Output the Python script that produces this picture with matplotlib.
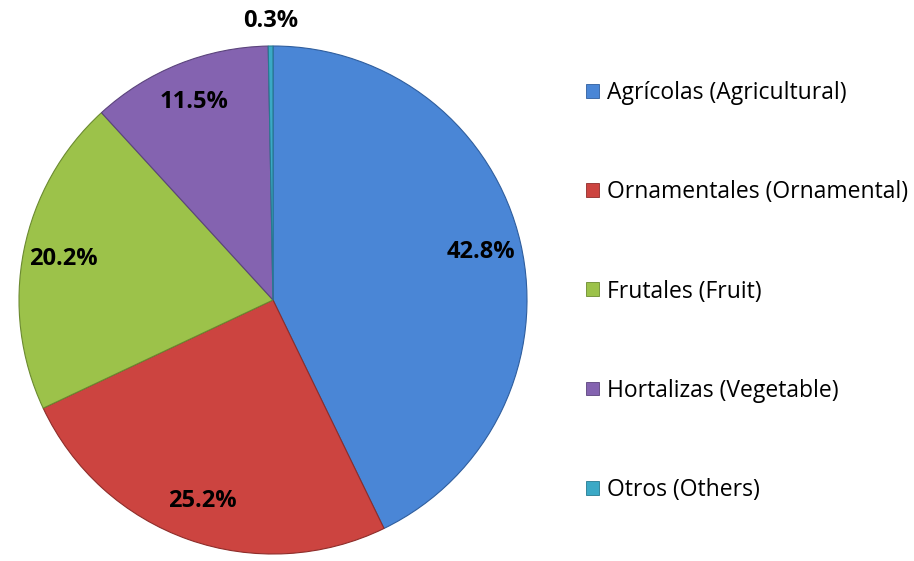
import numpy as np
import matplotlib.pyplot as plt
from matplotlib.patches import Patch

# data
labels = ["Agrícolas (Agricultural)", "Ornamentales (Ornamental)", "Frutales (Fruit)",
          "Hortalizas (Vegetable)", "Otros (Others)"]
values = [42.8, 25.2, 20.2, 11.5, 0.3]
colors = ["#4a86d6", "#cc4440", "#9cc24a", "#8463b0", "#3ba9c6"]
edges = ["#2f5e9e", "#8e2d2a", "#6b8a30", "#5b447c", "#267a90"]

plt.rcParams['font.family'] = ['Open Sans', 'DejaVu Sans']

fig = plt.figure(figsize=(9.14, 5.61), dpi=100)
ax = fig.add_axes([19 / 914, 7 / 561, 508 / 914, 508 / 561])

wedges, _ = ax.pie(values, colors=colors, startangle=90, counterclock=False,
                   radius=1.0, wedgeprops=dict(linewidth=0.8))
for w, ec in zip(wedges, edges):
    w.set_edgecolor(ec)
ax.set_xlim(-1, 1)
ax.set_ylim(-1, 1)
ax.set_aspect('equal')
ax.axis('off')

# percentage labels
cum = np.cumsum([0] + values[:-1])
for v, c in zip(values, cum):
    ang = np.deg2rad(90 - (c + v / 2) * 3.6)
    r = 0.84 if v > 2 else 1.10
    ax.text(r * np.cos(ang), r * np.sin(ang), f"{v:.1f}%", ha='center', va='center',
            fontsize=17, fontweight='bold', color='black', clip_on=False)

handles = [Patch(facecolor=c, edgecolor=e, linewidth=0.6) for c, e in zip(colors, edges)]
fig.legend(handles, labels, loc='upper left', bbox_to_anchor=(577 / 914, 1 - 72 / 561),
           frameon=False, fontsize=16.5, handlelength=0.55, handleheight=0.55,
           handletextpad=0.35, labelspacing=3.28, borderaxespad=0)

fig.savefig("out.png", dpi=100)
